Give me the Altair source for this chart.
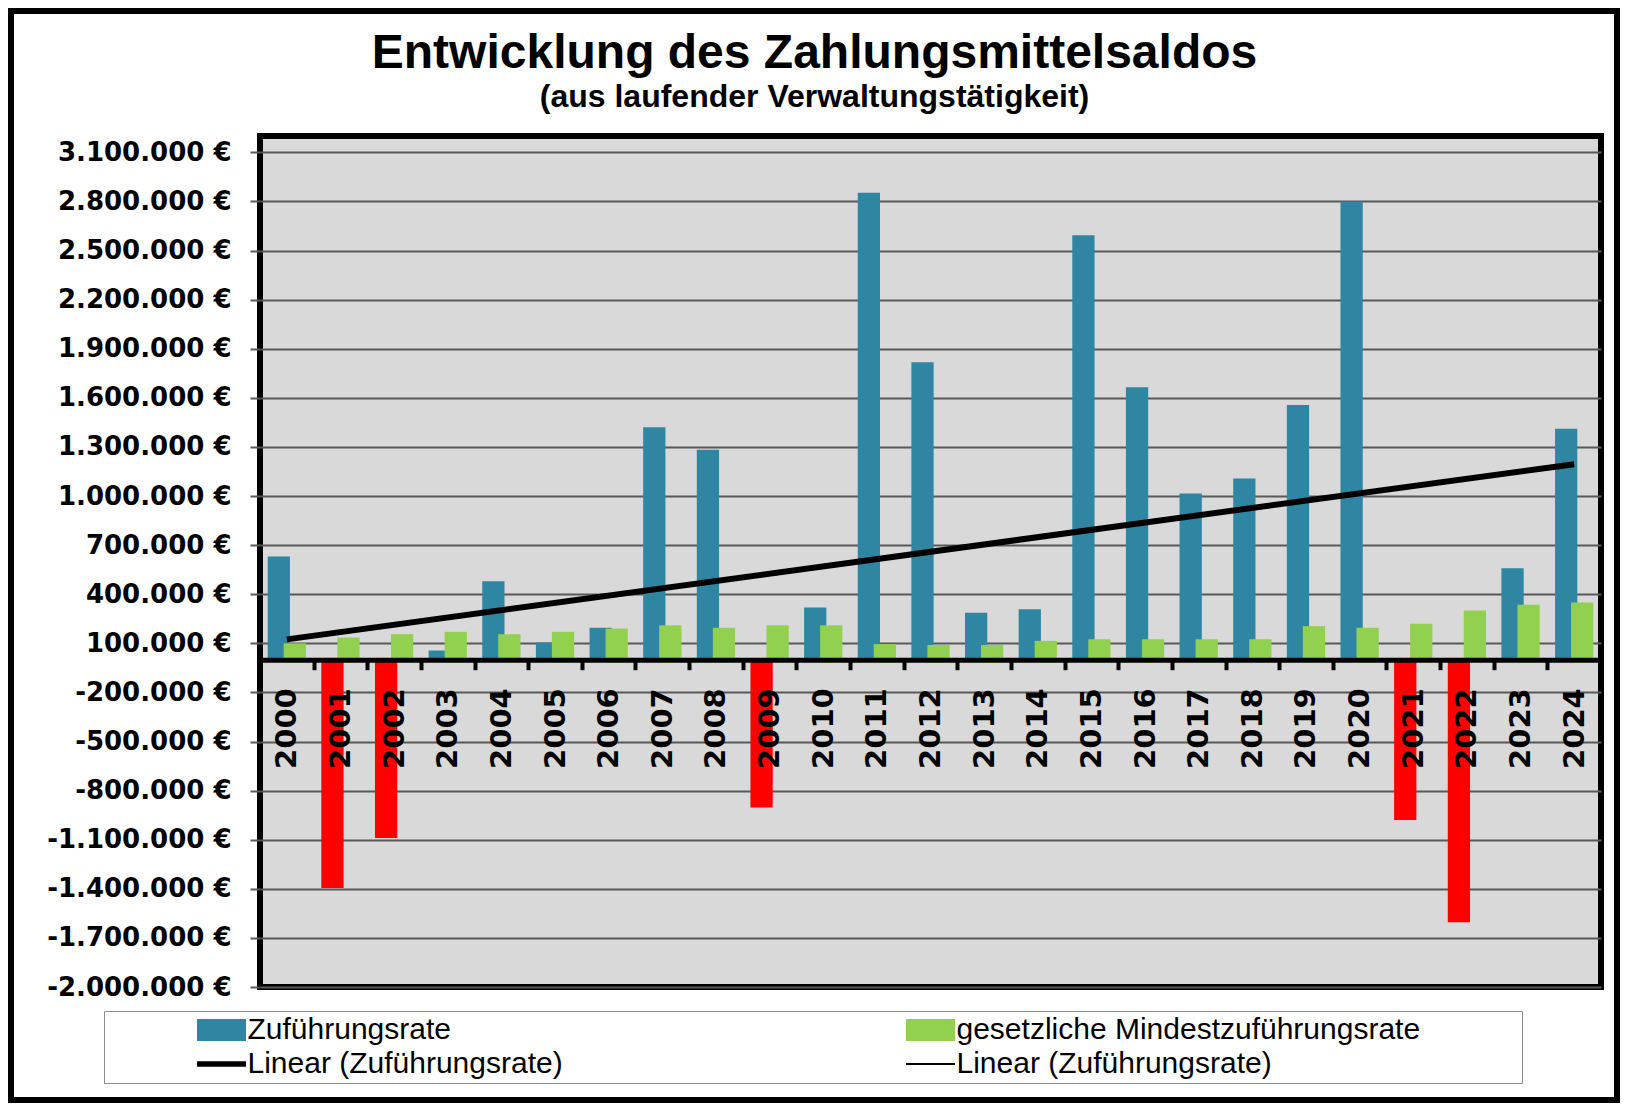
import altair as alt
import numpy as np
import pandas as pd

# ---------------- data ----------------
years = [str(y) for y in range(2000, 2025)]
zufuehrungsrate = [630000, -1395000, -1090000, 56000, 480000, 105000, 195000,
                   1420000, 1283000, -903000, 319000, 2853000, 1818000, 287000,
                   308000, 2594000, 1664000, 1015000, 1107000, 1557000, 2800000,
                   -980000, -1605000, 558000, 1411000]
mindestzufuehrung = [100000, 135000, 156000, 170000, 155000, 170000, 190000,
                     210000, 195000, 210000, 210000, 95000, 90000, 90000,
                     115000, 125000, 125000, 125000, 125000, 205000, 195000,
                     220000, 300000, 335000, 350000]
y_ticks = list(range(-2000000, 3100001, 300000))

S1 = "Zuführungsrate"
S2 = "gesetzliche Mindestzuführungsrate"
L1 = "Linear (Zuführungsrate)"
L2 = "Linear (Zuführungsrate) "
series_names = [S1, S2, L1, L2]

BLUE = "#2f86a2"
GREEN = "#92d050"
RED = "#ff0000"

rows = []
for yr, a, b in zip(years, zufuehrungsrate, mindestzufuehrung):
    rows.append({"year": yr, "series": S1, "value": a})
    rows.append({"year": yr, "series": S2, "value": b})
df = pd.DataFrame(rows)

# linear trend of the Zuführungsrate (least squares, as Excel's trendline)
idx = np.arange(len(years))
slope, intercept = np.polyfit(idx, np.array(zufuehrungsrate, dtype=float), 1)
trend_df = pd.DataFrame({
    "year": [years[0], years[-1]],
    "value": [intercept + slope * idx[0], intercept + slope * idx[-1]],
    "series": [L1, L1],
})
legend_df = pd.DataFrame({"series": series_names})

# ---------------- layout ----------------
W, H = 1341, 851
PAD_L, PAD_T, PAD_R, PAD_B = 252, 128, 19, 116
YMIN, YMAX = -2000000, 3200000
zero_offset = -H * (0 - YMIN) / (YMAX - YMIN)

x_axis = alt.Axis(
    orient="bottom", offset=zero_offset, labelAngle=270,
    labelFont="DejaVu Sans", labelFontWeight="bold", labelFontSize=29,
    labelColor="black", labelPadding=18, labelOverlap=False,
    tickBand="extent", tickSize=10, tickWidth=4, tickColor="black",
    domainColor="black", domainWidth=5, grid=False, title=None, zindex=1,
)
y_axis = alt.Axis(
    values=y_ticks,
    labelExpr="replace(replace(format(datum.value, ','), regexp(',', 'g'), '.'), '\u2212', '-') + ' €'",
    labelFont="DejaVu Sans", labelFontWeight="bold", labelFontSize=26,
    labelColor="black", labelPadding=19, labelOverlap=False, labelLimit=400,
    tickSize=10, tickWidth=2, tickColor="#595959",
    domain=False, grid=True, gridColor="#595959", gridWidth=2, title=None,
)

x_enc = alt.X("year:N", sort=years,
              scale=alt.Scale(domain=years, paddingInner=0, paddingOuter=0),
              axis=x_axis)
y_enc = alt.Y("value:Q", scale=alt.Scale(domain=[YMIN, YMAX], nice=False, zero=False),
              axis=y_axis, stack=None)

color_scale = alt.Scale(domain=series_names, range=[BLUE, GREEN, "black", "black"])
shape_scale = alt.Scale(domain=series_names, range=[
    "M-2.2273,-1H2.2273V1H-2.2273Z",
    "M-2.2273,-1H2.2273V1H-2.2273Z",
    "M-2.2273,-0.25H2.2273V0.25H-2.2273Z",
    "M-2.2273,-0.08H2.2273V0.08H-2.2273Z",
])

legend = alt.Legend(
    title="\u00a0", titleOrient="right", titlePadding=98,
    titleFont="Liberation Sans", titleFontSize=30,
    orient="none", legendX=-156, legendY=875, direction="horizontal",
    columns=2, columnPadding=254, rowPadding=4, padding=4,
    strokeColor="#8c8c8c", fillColor="white",
    labelFont="Liberation Sans", labelFontSize=30, labelColor="black",
    labelLimit=3000, labelOffset=11,
    labelExpr="trim(datum.label)",
    symbolSize=484, symbolStrokeWidth=0, symbolOffset=98.5,
)

bar_color = alt.condition(
    "datum.value < 0",
    alt.value(RED),
    alt.Color("series:N", scale=color_scale, legend=None),
)

# legend layer first so that its (enabled) legend wins the merge
legend_layer = alt.Chart(legend_df).transform_filter("false").mark_point(
    filled=True, opacity=1
).encode(
    color=alt.Color("series:N", scale=color_scale, legend=legend),
    shape=alt.Shape("series:N", scale=shape_scale, legend=legend),
)
bars_blue = alt.Chart(df).transform_filter(
    alt.datum.series == S1
).mark_bar(width=alt.RelativeBandSize(0.415), xOffset=-8).encode(
    x=x_enc, y=y_enc, color=bar_color,
)
bars_green = alt.Chart(df).transform_filter(
    alt.datum.series == S2
).mark_bar(width=alt.RelativeBandSize(0.415), xOffset=8).encode(
    x=x_enc, y=y_enc, color=bar_color,
)
trend = alt.Chart(trend_df).mark_line(color="black", strokeWidth=6).encode(
    x=x_enc, y=y_enc,
)
# outer picture frame (decoration around the whole figure)
frame = alt.Chart(legend_df.head(1)).mark_rect(
    fill=None, stroke="black", strokeWidth=6, clip=False
).encode(
    x=alt.value(-PAD_L + 3), x2=alt.value(W + PAD_R - 3),
    y=alt.value(-PAD_T + 3), y2=alt.value(H + PAD_B - 3),
)

chart = alt.layer(legend_layer, bars_blue, bars_green, trend, frame).properties(
    width=W, height=H,
    title=alt.TitleParams(
        text="Entwicklung des Zahlungsmittelsaldos",
        subtitle="(aus laufender Verwaltungstätigkeit)",
        font="Liberation Sans", fontSize=48, fontWeight="bold", color="black",
        subtitleFont="Liberation Sans", subtitleFontSize=32,
        subtitleFontWeight="bold", subtitleColor="black",
        anchor="middle", frame="group", dx=-116, offset=-105, subtitlePadding=4,
    ),
    autosize=alt.AutoSizeParams(type="none"),
    padding={"left": PAD_L, "top": PAD_T, "right": PAD_R, "bottom": PAD_B},
).configure(
    font="Liberation Sans", background="white",
).configure_view(
    fill="#d9d9d9", stroke="black", strokeWidth=6,
)

chart.save("out.html", embed_options={"renderer": "svg", "actions": False})
